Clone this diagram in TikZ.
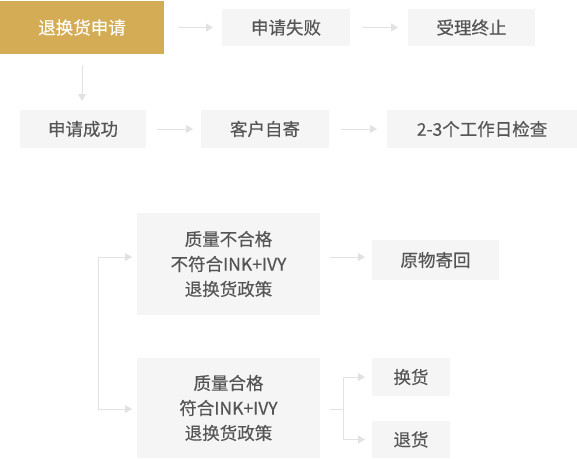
\documentclass[tikz,border=0pt]{standalone}
\usepackage{fontspec}
\setmainfont{Noto Sans CJK SC}[FakeBold=0.3]
\usetikzlibrary{arrows.meta}
\definecolor{gold}{HTML}{D4AC55}
\definecolor{boxbg}{HTML}{F5F5F5}
\definecolor{txt}{HTML}{555555}
\definecolor{ln}{HTML}{E2E2E2}
\begin{document}
\begin{tikzpicture}[x=1pt,y=-1pt,
 box/.style={fill=boxbg, text=txt, inner sep=0pt, outer sep=0pt, anchor=north west,
   font=\fontsize{17.5}{25}\selectfont, align=center},
 conn/.style={draw=ln, line width=1pt, -{Triangle[length=7pt,width=8pt]}},
 plain/.style={draw=ln, line width=1pt}]
\useasboundingbox (0,0) rectangle (577,458);
% row 1
\node[box, fill=gold, text=white, minimum width=164, minimum height=53] (apply) at (0,1) {退换货申请};
\node[box, minimum width=128, minimum height=37] (fail) at (222,9) {申请失败};
\node[box, minimum width=127, minimum height=37] (stop) at (408,9) {受理终止};
% row 2
\node[box, minimum width=126, minimum height=38] (succ) at (20,110) {申请成功};
\node[box, minimum width=128, minimum height=38] (self) at (201,110) {客户自寄};
\node[box, minimum width=190, minimum height=38] (check) at (387,110) {2-3个工作日检查};
% lower
\node[box, minimum width=183, minimum height=102] (q1) at (137,213) {质量不合格\\不符合INK+IVY\\退换货政策};
\node[box, minimum width=127, minimum height=40] (back) at (372,240) {原物寄回};
\node[box, minimum width=183, minimum height=100] (q2) at (137,358) {质量合格\\符合INK+IVY\\退换货政策};
\node[box, minimum width=78, minimum height=38] (exch) at (372,358) {换货};
\node[box, minimum width=78, minimum height=37] (ret) at (372,421) {退货};
% connectors
\draw[conn, shorten <=14pt, shorten >=9pt] (apply.east |- fail.west) -- (fail.west);
\draw[conn, shorten <=12pt, shorten >=10pt] (fail.east) -- (stop.west);
\draw[conn, shorten <=11pt, shorten >=9pt] (apply.south) -- (apply.south |- succ.north);
\draw[conn, shorten <=11pt, shorten >=8pt] (succ.east) -- (self.west);
\draw[conn, shorten <=12pt, shorten >=10pt] (self.east) -- (check.west);
\draw[conn, shorten <=10pt, shorten >=7pt] ([yshift=7pt]q1.east) -- ([yshift=7pt]q1.east -| back.west);
\coordinate (bb) at (98,409);
\draw[conn, shorten >=5pt] (bb) |- ([yshift=7pt]q1.west);
\draw[conn, shorten >=5pt] (bb) -- (bb -| q2.west);
\coordinate (j) at (343,409);
\draw[plain, shorten <=10pt] (q2.east |- j) -- (j);
\draw[conn, shorten >=7pt] (j) |- (exch.west);
\draw[conn, shorten >=7pt] (j) |- (ret.west);
\end{tikzpicture}
\end{document}
